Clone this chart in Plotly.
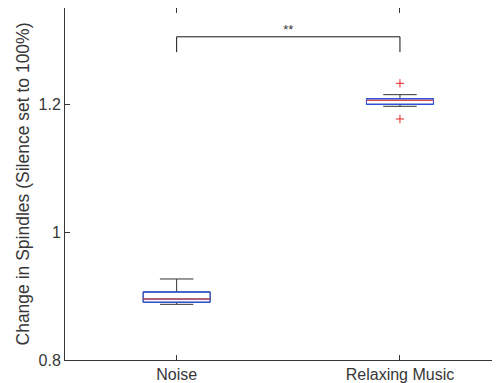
import plotly.graph_objects as go

categories = ["Noise", "Relaxing Music"]
positions = [1, 2]
q1 = [0.8902, 1.1995]
median = [0.8953, 1.2057]
q3 = [0.9063, 1.2083]
lower_whisker = [0.887, 1.1964]
upper_whisker = [0.9266, 1.2146]
outlier_x = [2, 2]
outlier_y = [1.2323, 1.1766]
bracket_x = [1, 1, 2, 2]
bracket_y = [1.281, 1.305, 1.305, 1.281]
sig_label = "**"
y_ticks = [0.8, 1.0, 1.2]
y_ticktext = ["0.8", "1", "1.2"]

BW = 0.3
font = "Liberation Sans, Arial, Helvetica, sans-serif"
txt = "rgb(55,55,55)"

fig = go.Figure()
# black whisker box (underneath)
fig.add_trace(go.Box(x=positions, q1=q1, median=median, q3=q3,
                     lowerfence=lower_whisker, upperfence=upper_whisker,
                     width=BW, whiskerwidth=0.5, boxpoints=False,
                     line=dict(color="rgb(50,50,50)", width=1),
                     fillcolor="rgba(255,255,255,0)", hoverinfo="skip"))
# blue box on top
fig.add_trace(go.Box(x=positions, q1=q1, median=median, q3=q3,
                     lowerfence=q1, upperfence=q3,
                     width=BW, whiskerwidth=1, boxpoints=False,
                     line=dict(color="rgb(45,85,220)", width=1),
                     fillcolor="rgba(255,255,255,0)", hoverinfo="skip"))
# red medians
for p, m in zip(positions, median):
    fig.add_trace(go.Scatter(x=[p - BW / 2, p + BW / 2], y=[m, m], mode="lines",
                             line=dict(color="rgb(255,70,70)", width=1), hoverinfo="skip"))
# outliers
fig.add_trace(go.Scatter(x=outlier_x, y=outlier_y, mode="markers",
                         marker=dict(symbol="cross-thin", size=6,
                                     line=dict(color="rgb(235,40,40)", width=1))))
# significance bracket
fig.add_trace(go.Scatter(x=bracket_x, y=bracket_y, mode="lines",
                         line=dict(color="rgb(20,20,20)", width=1), hoverinfo="skip"))
fig.add_trace(go.Scatter(x=[(bracket_x[0] + bracket_x[-1]) / 2], y=[bracket_y[1]],
                         mode="text", text=[sig_label], textposition="top center",
                         textfont=dict(family=font, size=13, color=txt)))

fig.update_layout(
    width=492, height=375, showlegend=False,
    margin=dict(l=57, r=0, t=0, b=23),
    plot_bgcolor="white", paper_bgcolor="white",
    font=dict(family=font, size=16, color=txt),
    xaxis=dict(range=[0.5, 2.448], tickvals=positions, ticktext=categories,
               ticks="inside", ticklen=5, tickcolor=txt, showline=True,
               linecolor=txt, linewidth=1, mirror="ticks", showgrid=False,
               zeroline=False, tickfont=dict(size=16, color=txt), automargin=False),
    yaxis=dict(range=[0.8, 1.35], tickvals=y_ticks, ticktext=y_ticktext,
               ticks="inside", ticklen=5, tickcolor=txt, showline=True,
               linecolor=txt, linewidth=1, showgrid=False, zeroline=False,
               automargin=False,
               title=dict(text="Change in Spindles (Silence set to 100%)",
                          font=dict(size=17.5, color=txt), standoff=4),
               tickfont=dict(size=16, color=txt)),
)
fig.write_html("out.html")
